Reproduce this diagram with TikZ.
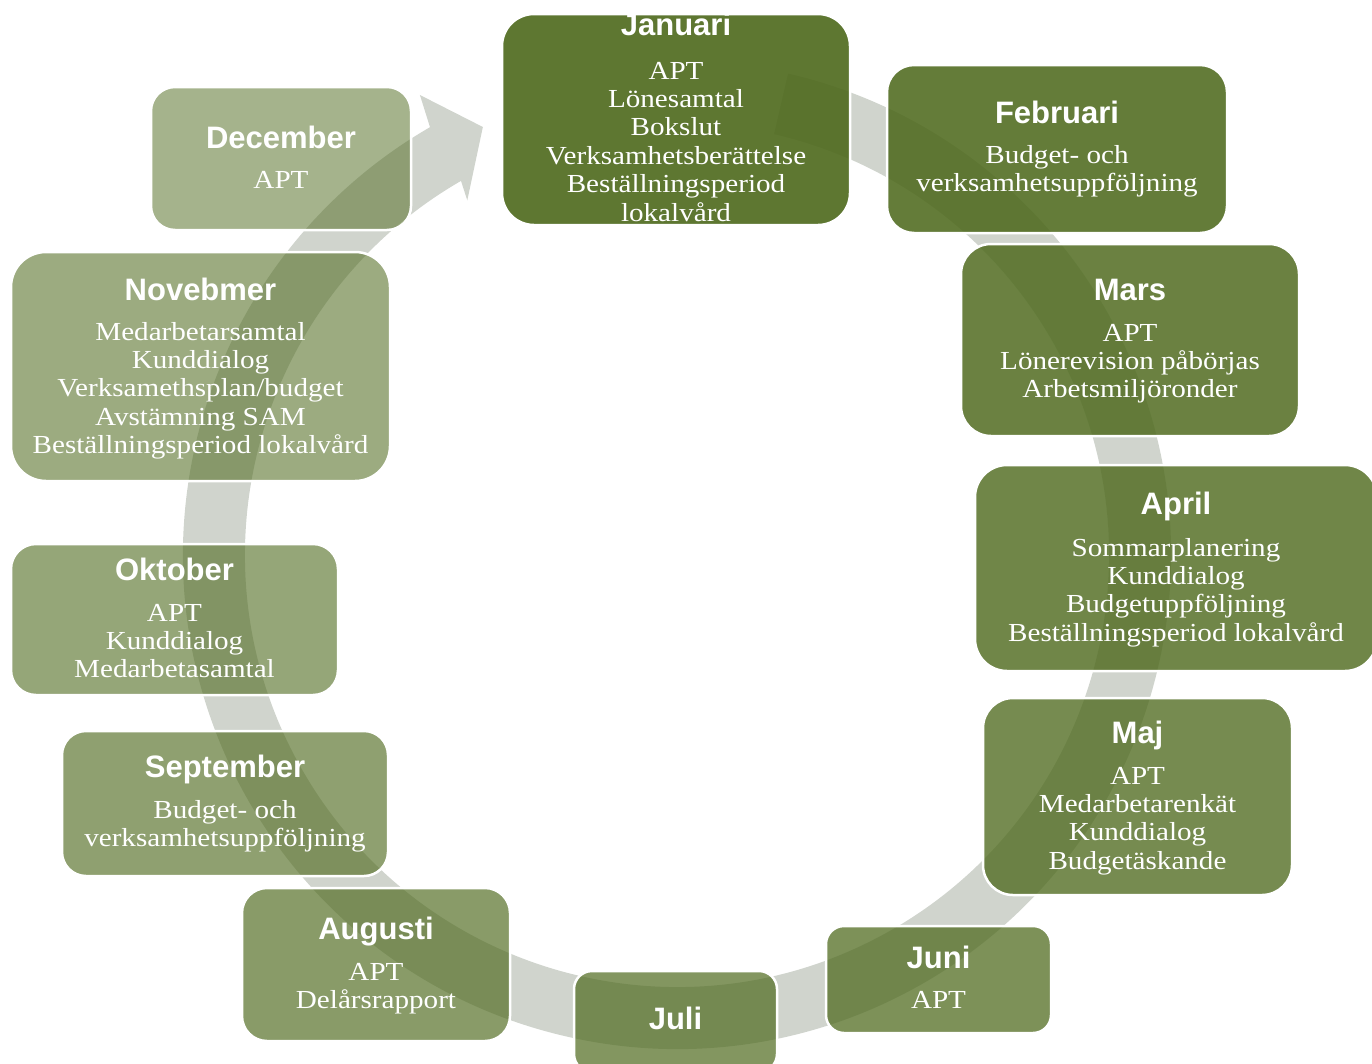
\documentclass[tikz,border=0pt]{standalone}
\usepackage{fontspec}
\setmainfont{Liberation Serif}[FakeStretch=1.12]
\newfontfamily\ttlfont{Liberation Sans}
\definecolor{boxgreen}{RGB}{79,106,30}
\definecolor{bandgray}{RGB}{208,212,205}
\tikzset{
  mbox/.style={rectangle, draw=white, line width=2.5pt, fill=boxgreen, inner sep=0pt},
  mtitle/.style={anchor=base, inner sep=0pt, text=white, font=\ttlfont\bfseries\fontsize{31}{34}\selectfont},
  mbody/.style={anchor=base, inner sep=0pt, text=white, align=center, font=\fontsize{26}{28.4}\selectfont},
}
\begin{document}
\begin{tikzpicture}[x=1pt,y=-1pt]
\useasboundingbox (0,0) rectangle (1372,1063);
\clip (0,0) rectangle (1372,1063);
% circular arrow
\begin{scope}[shift={(677,555)}]
\fill[bandgray] (77:494pt) arc[start angle=77, end angle=-240, radius=494pt]
  -- (-240.8:527pt) -- (-245.6:470pt) -- (-239.4:412pt)
  -- (-240:432pt) arc[start angle=-240, end angle=77, radius=432pt] -- cycle;
\end{scope}
% boxes
\node[mbox, fill opacity=0.915, minimum width=348pt, minimum height=211pt, rounded corners=32pt] (jan) at (676,119.5) {};
\node[mbox, fill opacity=0.88, minimum width=340pt, minimum height=168pt, rounded corners=27pt] (feb) at (1057,149) {};
\node[mbox, fill opacity=0.845, minimum width=338pt, minimum height=192pt, rounded corners=30pt] (mar) at (1130,340) {};
\node[mbox, fill opacity=0.81, minimum width=402pt, minimum height=206pt, rounded corners=32pt] (apr) at (1176,568) {};
\node[mbox, fill opacity=0.775, minimum width=309pt, minimum height=197pt, rounded corners=30pt] (maj) at (1137.5,796.5) {};
\node[mbox, fill opacity=0.74, minimum width=225pt, minimum height=107pt, rounded corners=18pt] (jun) at (938.5,979.5) {};
\node[mbox, fill opacity=0.705, minimum width=203pt, minimum height=101pt, rounded corners=18pt] (jul) at (675.5,1021.5) {};
\node[mbox, fill opacity=0.67, minimum width=268pt, minimum height=153pt, rounded corners=25pt] (aug) at (376,964.5) {};
\node[mbox, fill opacity=0.635, minimum width=326pt, minimum height=145pt, rounded corners=24pt] (sep) at (225,803.5) {};
\node[mbox, fill opacity=0.6, minimum width=327pt, minimum height=151pt, rounded corners=25pt] (okt) at (174.5,619.5) {};
\node[mbox, fill opacity=0.565, minimum width=379pt, minimum height=229pt, rounded corners=35pt] (nov) at (200.5,366.5) {};
\node[mbox, fill opacity=0.51, minimum width=260pt, minimum height=143pt, rounded corners=24pt] (dec) at (281,158.5) {};
% texts (body nodes anchored at the baseline of their last line)
\node[mtitle] (jant) at (676,35) {Januari};
\node[mbody] (janb) at (676,221) {APT\\Lönesamtal\\Bokslut\\Verksamhetsberättelse\\Beställningsperiod\\lokalvård};
\node[mtitle] (febt) at (1057,123) {Februari};
\node[mbody] (febb) at (1057,191.7) {Budget- och\\verksamhetsuppföljning};
\node[mtitle] (mart) at (1130,300.5) {Mars};
\node[mbody] (marb) at (1130,397.8) {APT\\Lönerevision påbörjas\\Arbetsmiljöronder};
\node[mtitle] (aprt) at (1176,514.5) {April};
\node[mbody] (aprb) at (1176,641.2) {Sommarplanering\\Kunddialog\\Budgetuppföljning\\Beställningsperiod lokalvård};
\node[mtitle] (majt) at (1137.5,743.5) {Maj};
\node[mbody] (majb) at (1137.5,869.2) {APT\\Medarbetarenkät\\Kunddialog\\Budgetäskande};
\node[mtitle] (junt) at (938.5,968.5) {Juni};
\node[mbody] (junb) at (938.5,1008) {APT};
\node[mtitle] (jult) at (675.5,1029.5) {Juli};
\node[mtitle] (augt) at (376,939.5) {Augusti};
\node[mbody] (augb) at (376,1008.4) {APT\\Delårsrapport};
\node[mtitle] (sept) at (225,777.5) {September};
\node[mbody] (sepb) at (225,846.4) {Budget- och\\verksamhetsuppföljning};
\node[mtitle] (oktt) at (174.5,580.5) {Oktober};
\node[mbody] (oktb) at (174.5,677.8) {APT\\Kunddialog\\Medarbetasamtal};
\node[mtitle] (novt) at (200.5,300) {Novebmer};
\node[mbody] (novb) at (200.5,453.6) {Medarbetarsamtal\\Kunddialog\\Verksamethsplan/budget\\Avstämning SAM\\Beställningsperiod lokalvård};
\node[mtitle] (dect) at (281,148) {December};
\node[mbody] (decb) at (281,188.3) {APT};
\end{tikzpicture}
\end{document}
